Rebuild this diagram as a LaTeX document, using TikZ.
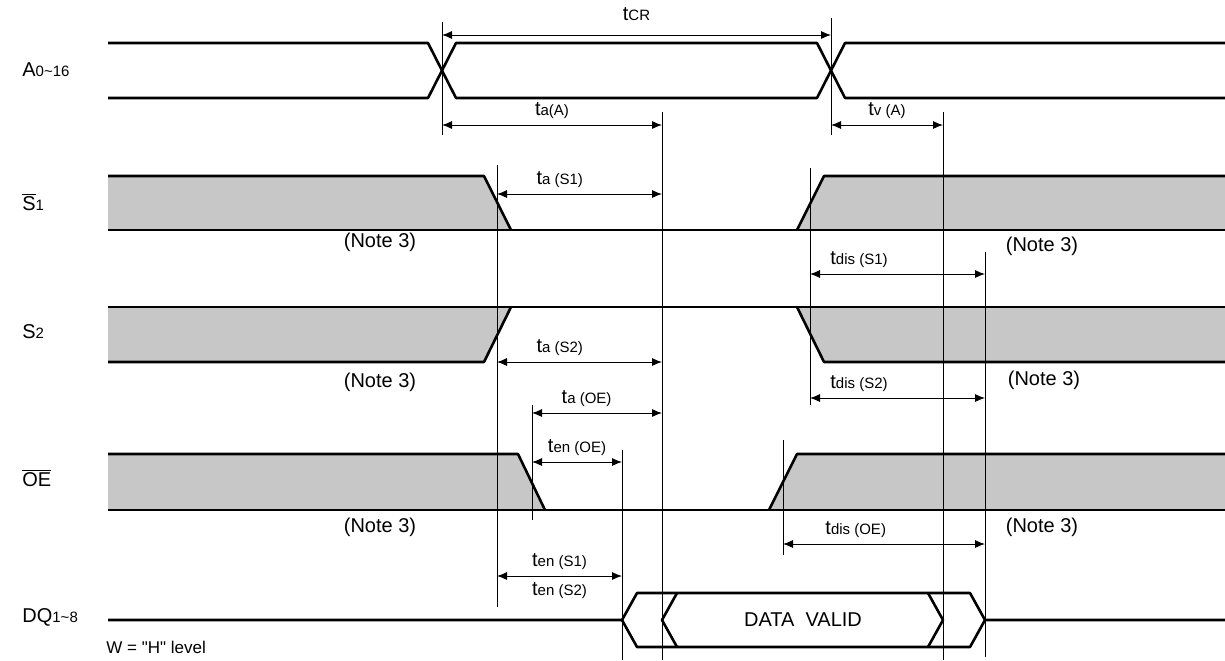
\documentclass[tikz,border=0pt]{standalone}
\usepackage{fontspec}
\setmainfont{Liberation Sans}
\newfontfamily\plainsans{Liberation Sans}
\usetikzlibrary{quotes,arrows.meta}

\newcommand{\tlab}[1]{t{\fontsize{7.5}{9}\selectfont #1}}
\newcommand{\slab}[2]{#1{\fontsize{7.5}{9}\selectfont #2}}

\begin{document}
\begin{tikzpicture}[x=0.5pt, y=-0.5pt,
            sig/.style={line width=1.3pt, line join=round},
            dim/.style={line width=0.45pt, {Latex[length=5pt,width=4pt]}-{Latex[length=5pt,width=4pt]}},
            guide/.style={line width=0.45pt},
            shade/.style={fill=black!22},
            nodes={font=\fontsize{10}{12}\selectfont, inner sep=1pt}]
        \useasboundingbox (0,0) rectangle (1225,660);

        % signal names
        \node (A)  [right] at (20,70)  {\slab{A}{0\textasciitilde16}};
        \node (S1) [right] at (20,202) {\slab{$\overline{\mbox{S}}$}{1}};
        \node (S2) [right] at (20,332) {\slab{S}{2}};
        \node (OE) [right] at (20,478) {$\overline{\mbox{OE}}$};
        \node (DQ) [right] at (20,617) {\slab{DQ}{1\textasciitilde8}};
        \node (W)  [right] at (104,647) {\plainsans\fontsize{8.5}{10}\selectfont W = "H" level};

        % address
        \draw [sig] (108,43) -- (428,43) -- (456,98) -- (817,98) -- (845,43) -- (1225,43);
        \draw [sig] (108,98) -- (428,98) -- (456,43) -- (817,43) -- (845,98) -- (1225,98);

        % S1
        \fill [shade] (108,176) -- (484,176) -- (511,230) -- (108,230) -- cycle;
        \fill [shade] (797,230) -- (824,176) -- (1225,176) -- (1225,230) -- cycle;
        \draw [sig] (108,176) -- (484,176) -- (511,230);
        \draw [sig] (797,230) -- (824,176) -- (1225,176);
        \draw [sig] (108,230) -- (1225,230);

        % S2
        \fill [shade] (108,307) -- (511,307) -- (484,362) -- (108,362) -- cycle;
        \fill [shade] (797,307) -- (1225,307) -- (1225,362) -- (824,362) -- cycle;
        \draw [sig] (108,307) -- (1225,307);
        \draw [sig] (108,362) -- (484,362) -- (511,307);
        \draw [sig] (797,307) -- (824,362) -- (1225,362);

        % OE
        \fill [shade] (108,454) -- (518,454) -- (545,510) -- (108,510) -- cycle;
        \fill [shade] (769,510) -- (797,454) -- (1225,454) -- (1225,510) -- cycle;
        \draw [sig] (108,454) -- (518,454) -- (545,510);
        \draw [sig] (769,510) -- (797,454) -- (1225,454);
        \draw [sig] (108,510) -- (1225,510);

        % DQ
        \draw [sig] (108,620) -- (622,620) -- (637,593) -- (970,593) -- (985,620) -- (1225,620);
        \draw [sig] (622,620) -- (637,647) -- (970,647) -- (985,620);
        \draw [sig] (677,593) -- (662,620) -- (677,647);
        \draw [sig] (928,593) -- (943,620) -- (928,647);
        \node (dv) at (803,620) {DATA\ \ VALID};

        % guide lines
        \draw [guide] (442,22) -- (442,135);
        \draw [guide] (831,18) -- (831,135);
        \draw [guide] (662,112) -- (662,660);
        \draw [guide] (943,112) -- (943,660);
        \draw [guide] (497,165) -- (497,607);
        \draw [guide] (810,168) -- (810,405);
        \draw [guide] (985,252) -- (985,657);
        \draw [guide] (532,405) -- (532,520);
        \draw [guide] (622,450) -- (622,660);
        \draw [guide] (783,440) -- (783,555);

        % timing arrows
        \coordinate (cr1) at (442,35);   \coordinate (cr2) at (831,35);
        \coordinate (aa1) at (442,125);  \coordinate (aa2) at (662,125);
        \coordinate (va1) at (831,125);  \coordinate (va2) at (943,125);
        \coordinate (as1) at (497,194);  \coordinate (as2) at (662,194);
        \coordinate (ds1) at (810,274);  \coordinate (ds2) at (985,274);
        \coordinate (at1) at (497,362);  \coordinate (at2) at (662,362);
        \coordinate (dt1) at (810,398);  \coordinate (dt2) at (985,398);
        \coordinate (ao1) at (532,413);  \coordinate (ao2) at (662,413);
        \coordinate (eo1) at (532,462);  \coordinate (eo2) at (622,462);
        \coordinate (do1) at (783,544);  \coordinate (do2) at (985,544);
        \coordinate (es1) at (497,576);  \coordinate (es2) at (622,576);

        \path (cr1) edge [dim, "\tlab{CR}"{above=6pt}] (cr2);
        \path (aa1) edge [dim, "\tlab{a(A)}"{above=2pt}] (aa2);
        \path (va1) edge [dim, "\tlab{v (A)}"{above=2pt}] (va2);
        \path (as1) edge [dim, "\tlab{a (S1)}"{above=2pt, pos=0.38}] (as2);
        \path (ds1) edge [dim, "\tlab{dis (S1)}"{above=2pt, pos=0.28}] (ds2);
        \path (at1) edge [dim, "\tlab{a (S2)}"{above=2pt, pos=0.38}] (at2);
        \path (dt1) edge [dim, "\tlab{dis (S2)}"{above=2pt, pos=0.28}] (dt2);
        \path (ao1) edge [dim, "\tlab{a (OE)}"{above=2pt, pos=0.42}] (ao2);
        \path (eo1) edge [dim, "\tlab{en (OE)}"{above=2pt}] (eo2);
        \path (do1) edge [dim, "\tlab{dis (OE)}"{above=2pt, pos=0.36}] (do2);
        \path (es1) edge [dim, "\tlab{en (S1)}"{above=2pt}, "\tlab{en (S2)}"{below=2pt}] (es2);

        % notes
        \node (n1) at (380,242) {(Note 3)};
        \node (n2) at (1042,246) {(Note 3)};
        \node (n3) at (380,382) {(Note 3)};
        \node (n4) at (1044,380) {(Note 3)};
        \node (n5) at (380,527) {(Note 3)};
        \node (n6) at (1042,527) {(Note 3)};
    \end{tikzpicture}
\end{document}
